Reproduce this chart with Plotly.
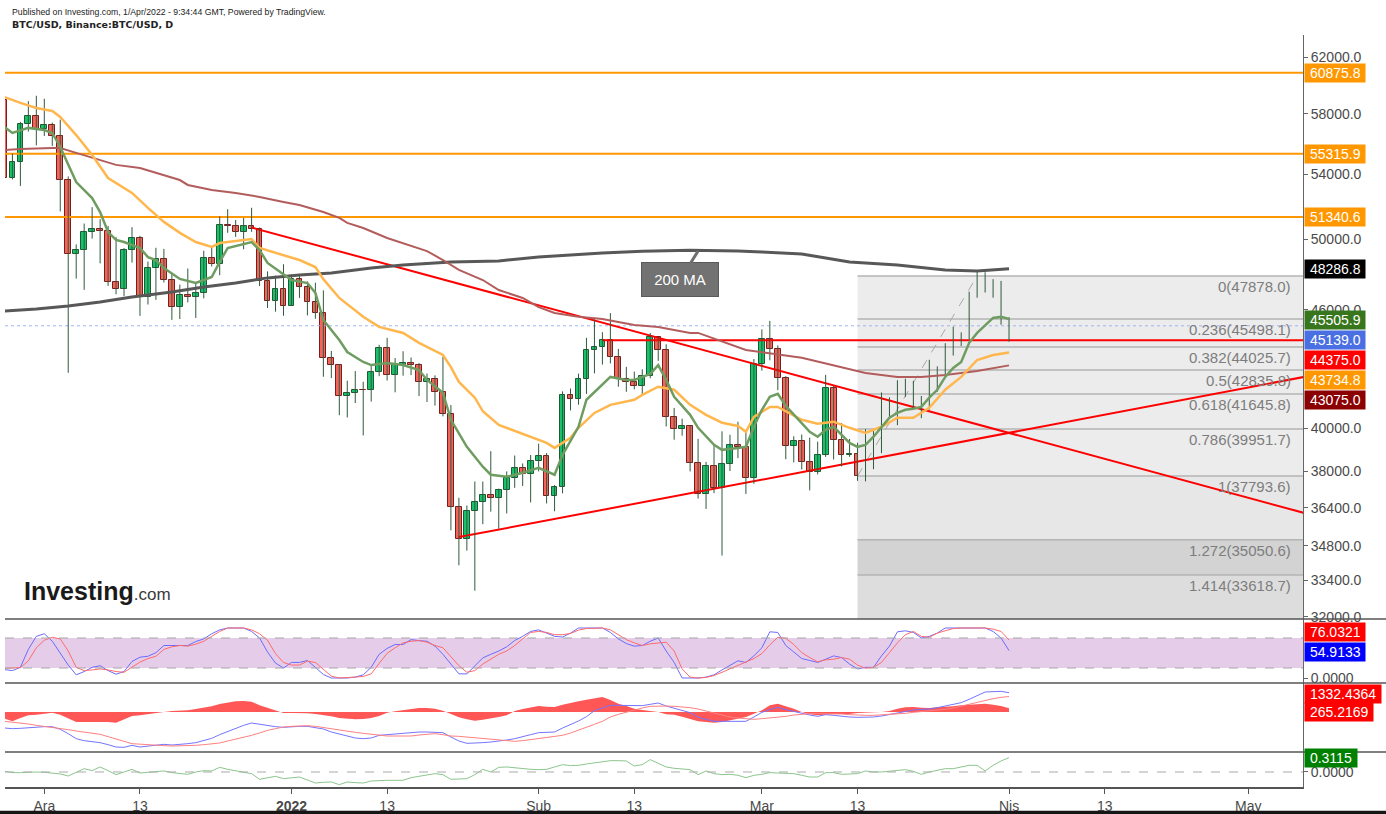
import numpy as np
import pandas as pd
import plotly.graph_objects as go
from plotly.subplots import make_subplots

# ---------------- data ----------------
dates = pd.date_range('2021-11-26', '2022-04-01', freq='D')

opens = [58921, 53736, 54799, 57291, 57831,
         56975, 57210, 56509, 53601, 49152, 49397, 50441, 50588, 50471, 47535, 47140, 49389, 50054, 46702, 48343, 48864,
         47632, 46131, 46834, 46681, 46914, 48887, 48588, 50838, 50821, 50429, 50809, 50640, 47588, 46464, 47120,
         46216, 47722, 47286, 46446, 45833, 43432, 43082, 41567, 41680, 41864, 41822, 42736, 43950, 42592, 43099, 43177,
         43113, 42250, 42375, 41744, 40680, 36445, 35071, 36244, 36660, 36958, 36809, 37160, 37716, 38166, 37881,
         38466, 38690, 36896, 37311, 41574, 41382, 42380, 43840, 44043, 44372, 43495, 42373, 42217, 42053, 42535, 44544,
         43873, 40515, 39974, 40079, 38386, 37008, 38230, 37250, 38328, 39219, 39116, 37700,
         43160, 44421, 43892, 42454, 39148, 39397, 38420, 37988, 38730, 41941, 39422, 38729, 38807, 37777, 39671, 39280,
         41114, 40917, 41757, 42201, 41262, 41002, 42364, 42882, 43991, 44313, 44511, 46827, 47122, 47434, 47067,
         45510]
highs = [59183, 55329, 57445, 58872, 59250,
         59041, 57400, 57600, 53859, 49699, 50939, 51936, 51200, 50797, 50125, 49485, 50724, 50205, 48700, 49500, 49436,
         47995, 47392, 48300, 47537, 49328, 49576, 51375, 51810, 51156, 51280, 51900, 50704, 48140, 47900, 48548,
         47954, 47990, 47570, 47500, 47070, 43816, 43145, 42300, 42786, 42248, 43100, 44135, 44500, 43448, 43800, 43476,
         43200, 42662, 42569, 43505, 41100, 36835, 36499, 37550, 37545, 38919, 37234, 38000, 38720, 38359, 38744,
         39265, 38835, 37387, 41772, 41913, 42656, 44500, 45492, 44799, 45821, 43920, 43000, 42760, 42876, 44751, 44549,
         44164, 40959, 40444, 40125, 39494, 38429, 39249, 39843, 39683, 40300, 39855, 43400,
         44949, 45400, 44101, 42527, 39613, 39693, 39547, 39362, 42594, 42039, 40236, 39486, 39310, 39947, 39887, 41718,
         41478, 42325, 42400, 42296, 41544, 43361, 43025, 44220, 45094, 44792, 46999, 48190, 48096, 47700, 47600,
         45600]
lows = [53500, 53669, 53256, 56793, 55875,
        56500, 55837, 51680, 42700, 47727, 47100, 50039, 48600, 47320, 46852, 46751, 48638, 45672, 46290, 46547, 47511,
        45456, 45500, 46406, 45558, 46630, 48421, 47920, 50384, 50142, 49412, 50449, 47313, 46096, 45900, 45678,
        46208, 46654, 45696, 45516, 42500, 42430, 40610, 40501, 41200, 39650, 41268, 42528, 42311, 41725, 42555, 42581,
        41540, 41250, 41074, 40553, 35440, 34008, 34601, 33000, 35701, 36234, 35507, 36155, 37268, 37351, 36632,
        38000, 36586, 36250, 37026, 40843, 41116, 41645, 42667, 43117, 43174, 42000, 41748, 41870, 41571, 42427, 43307,
        40073, 39450, 39639, 38000, 36800, 36350, 37036, 34400, 38015, 38600, 37000, 37450,
        42809, 43334, 41832, 38550, 38407, 38088, 37155, 37867, 38656, 38539, 38223, 38660, 37578, 37555, 38098, 38828,
        40500, 40135, 41499, 40911, 40467, 40875, 41751, 42560, 43579, 44071, 44422, 46663, 46950, 46665, 45200,
        44300]
closes = [53736, 54799, 57291, 57831, 56975,
          57210, 56509, 53601, 49152, 49397, 50441, 50588, 50471, 47545, 47140, 49389, 50054, 46702, 48343, 48864, 47632,
          46131, 46834, 46681, 46914, 48889, 48588, 50838, 50821, 50429, 50809, 50640, 47588, 46464, 47120, 46216,
          47722, 47286, 46446, 45833, 43432, 43082, 41567, 41680, 41864, 41822, 42736, 43950, 42592, 43099, 43177, 43113,
          42250, 42375, 41744, 40680, 36445, 35071, 36244, 36660, 36958, 36809, 37160, 37716, 38166, 37881, 38466,
          38690, 36896, 37311, 41574, 41382, 42380, 43840, 44043, 44372, 43495, 42373, 42217, 42053, 42535, 44544, 43873,
          40515, 39974, 40079, 38386, 37008, 38230, 37250, 38328, 39219, 39116, 37700, 43160,
          44421, 43892, 42454, 39148, 39397, 38420, 37988, 38730, 41941, 39422, 38729, 38807, 37777, 39671, 39280, 41114,
          40917, 41757, 42201, 41262, 41002, 42364, 42882, 43991, 44313, 44511, 46827, 47122, 47434, 47067, 45510,
          45139]

# moving averages (date, value)
ma_fast_dates = ['2021-11-26', '2021-11-27', '2021-11-29', '2021-12-01', '2021-12-02', '2021-12-03', '2021-12-05',
                 '2021-12-07', '2021-12-08', '2021-12-09', '2021-12-10', '2021-12-11', '2021-12-13', '2021-12-14',
                 '2021-12-15', '2021-12-16', '2021-12-18', '2021-12-20', '2021-12-21', '2021-12-22', '2021-12-23',
                 '2021-12-24', '2021-12-27', '2021-12-28', '2021-12-29', '2021-12-31', '2022-01-01', '2022-01-03',
                 '2022-01-04', '2022-01-05', '2022-01-07', '2022-01-08', '2022-01-10', '2022-01-11', '2022-01-13',
                 '2022-01-15', '2022-01-17', '2022-01-18', '2022-01-20', '2022-01-21', '2022-01-23', '2022-01-25',
                 '2022-01-26', '2022-01-28', '2022-01-30', '2022-02-01', '2022-02-03', '2022-02-04', '2022-02-06',
                 '2022-02-07', '2022-02-09', '2022-02-10', '2022-02-12', '2022-02-13', '2022-02-15', '2022-02-16',
                 '2022-02-17', '2022-02-18', '2022-02-20', '2022-02-21', '2022-02-23', '2022-02-24', '2022-02-26',
                 '2022-02-27', '2022-02-28', '2022-03-01', '2022-03-02', '2022-03-03', '2022-03-04', '2022-03-05',
                 '2022-03-06', '2022-03-07', '2022-03-08', '2022-03-09', '2022-03-10', '2022-03-11', '2022-03-12',
                 '2022-03-13', '2022-03-14', '2022-03-15', '2022-03-16', '2022-03-17', '2022-03-18', '2022-03-19',
                 '2022-03-20', '2022-03-21', '2022-03-22', '2022-03-23', '2022-03-24', '2022-03-25', '2022-03-26',
                 '2022-03-27', '2022-03-28', '2022-03-29', '2022-03-30', '2022-03-31', '2022-04-01']
ma_fast_vals = [57100, 56700, 57040, 56900, 56700, 55770, 53500, 52500, 51640, 50430, 49960, 49840, 49490, 48960,
                48790, 48330, 47710, 47480, 47650, 47820, 48680, 49490, 49840, 49370, 48620, 47940, 47650, 47480,
                46930, 45450, 44390, 43760, 43250, 43090, 43200, 43090, 42840, 42340, 41700, 40390, 39120, 38210,
                37850, 37760, 37940, 38160, 37850, 38750, 40060, 41360, 42090, 42490, 42340, 42340, 42640, 43090,
                42340, 41500, 40630, 40010, 39210, 38980, 39070, 39120, 40060, 40870, 41500, 41650, 41060, 40630,
                40250, 39820, 39590, 39910, 40060, 39680, 39300, 39120, 39210, 39590, 40060, 40490, 40720, 40870,
                40920, 41010, 41460, 41850, 42490, 42940, 43250, 44240, 44760, 45180, 45560, 45620, 45506]

ma_mid_dates = ['2021-11-26', '2021-11-28', '2021-11-30', '2021-12-02', '2021-12-03', '2021-12-05', '2021-12-07',
                '2021-12-09', '2021-12-12', '2021-12-14', '2021-12-16', '2021-12-18', '2021-12-20', '2021-12-22',
                '2021-12-23', '2021-12-25', '2021-12-27', '2021-12-28', '2021-12-31', '2022-01-02', '2022-01-04',
                '2022-01-05', '2022-01-07', '2022-01-10', '2022-01-12', '2022-01-15', '2022-01-17', '2022-01-20',
                '2022-01-21', '2022-01-22', '2022-01-24', '2022-01-25', '2022-01-27', '2022-01-30', '2022-01-31',
                '2022-02-02', '2022-02-03', '2022-02-05', '2022-02-06', '2022-02-08', '2022-02-10', '2022-02-13',
                '2022-02-14', '2022-02-16', '2022-02-18', '2022-02-19', '2022-02-20', '2022-02-22', '2022-02-24',
                '2022-02-26', '2022-02-27', '2022-02-28', '2022-03-01', '2022-03-02', '2022-03-03', '2022-03-04',
                '2022-03-05', '2022-03-06', '2022-03-08', '2022-03-10', '2022-03-12', '2022-03-14', '2022-03-16',
                '2022-03-18', '2022-03-20', '2022-03-22', '2022-03-24', '2022-03-26', '2022-03-28', '2022-03-30',
                '2022-04-01']
ma_mid_vals = [59160, 58750, 58400, 58190, 57780, 56560, 55240, 53760, 52820, 51890, 51040, 50380, 49840, 49550,
               49780, 49900, 50020, 49490, 49080, 48790, 48390, 47700, 46650, 45620, 45080, 44760, 44240, 43610,
               42990, 42240, 41460, 40800, 40150, 39730, 39590, 39300, 39070, 39540, 40010, 40720, 41110, 41360,
               41600, 42000, 41850, 41460, 41110, 40630, 40250, 40100, 39820, 40530, 40770, 41010, 41010, 40800,
               40630, 40390, 40200, 40300, 40010, 39770, 40060, 40490, 40490, 40970, 41850, 42490, 43350, 43610,
               43735]

ma_slow_dates = ['2021-11-26', '2021-11-28', '2021-12-02', '2021-12-03', '2021-12-05', '2021-12-08', '2021-12-10',
                 '2021-12-13', '2021-12-15', '2021-12-18', '2021-12-19', '2021-12-22', '2021-12-25', '2021-12-28',
                 '2021-12-31', '2022-01-02', '2022-01-05', '2022-01-07', '2022-01-08', '2022-01-10', '2022-01-13',
                 '2022-01-18', '2022-01-20', '2022-01-22', '2022-01-25', '2022-01-27', '2022-01-30', '2022-02-01',
                 '2022-02-03', '2022-02-06', '2022-02-09', '2022-02-13', '2022-02-16', '2022-02-20', '2022-02-21',
                 '2022-02-27', '2022-03-06', '2022-03-12', '2022-03-14', '2022-03-18', '2022-03-21', '2022-03-24',
                 '2022-03-28', '2022-04-01']
ma_slow_vals = [55570, 55640, 55700, 55700, 55380, 54920, 54600, 54400, 54080, 53630, 53320, 53000, 52820, 52570,
                52260, 52070, 51640, 51280, 50980, 50670, 50080, 49310, 48790, 48220, 47650, 47090, 46650, 46150,
                45830, 45620, 45500, 45180, 45080, 44760, 44760, 43870, 43460, 42890, 42690, 42490, 42490, 42590,
                42790, 43075]

ma200_dates = ['2021-11-26', '2021-11-30', '2021-12-04', '2021-12-08', '2021-12-12', '2021-12-17', '2021-12-21',
               '2021-12-25', '2021-12-29', '2022-01-02', '2022-01-06', '2022-01-08', '2022-01-11', '2022-01-15',
               '2022-01-21', '2022-01-27', '2022-02-01', '2022-02-09', '2022-02-14', '2022-02-20', '2022-02-26',
               '2022-03-01', '2022-03-06', '2022-03-12', '2022-03-18', '2022-03-24', '2022-03-28', '2022-04-01']
ma200_vals = [45940, 46040, 46210, 46430, 46700, 46980, 47260, 47480, 47770, 47940, 48050, 48160, 48330, 48500,
              48680, 48740, 48970, 49200, 49300, 49350, 49320, 49260, 49140, 48680, 48510, 48220, 48160, 48287]

# horizontal levels
orange_levels = [60875.8, 55315.9, 51340.6]
red_level = 44375.0
red_level_start = '2022-02-09'
last_price = 45139.0

# trend lines (date, price)
trend_down = (['2021-12-27', '2022-05-08'], [50700, 36180])
trend_up = (['2022-01-22', '2022-05-08'], [35160, 42490])

# fibonacci retracement
fib_start = '2022-03-13'
fib_ratios = ['0', '0.236', '0.382', '0.5', '0.618', '0.786', '1', '1.272', '1.414']
fib_prices = [47878.0, 45498.1, 44025.7, 42835.8, 41645.8, 39951.7, 37793.6, 35050.6, 33618.7]
fib_trend = (['2022-03-13', '2022-03-28'], [37793.6, 47878.0])

# Stochastic RSI
stoch_k = [16.8, 14.8, 21.3, 57.2, 83.3, 88.5, 73.5, 50.7, 25.9, 6.3,
           12.9, 21.3, 24.6, 14.8, 7.6, 12.9, 33.1, 41.6, 43.5, 50.7,
           65.0, 65.0, 64.4, 65.0, 72.9, 78.1, 88.5, 96.3, 100, 100,
           100, 93.1, 80.0, 52.0, 29.8, 20.0, 31.1, 31.1, 35.0, 21.3,
           7.0, 0, 0, 0, 1.8, 6.3, 21.3, 47.4, 59.2, 67.0,
           67.0, 76.8, 74.8, 73.5, 63.7, 47.4, 27.9, 8.3, 8.3, 24.6,
           40.2, 47.4, 53.9, 62.4, 75.0, 83.3, 93.1, 96.3, 89.8, 83.3,
           82.0, 89.8, 100, 100, 100, 100, 91.1, 78.1, 68.9, 63.7,
           65.0, 73.5, 80.0, 53.9, 31.1, 0, 0, 0, 1.8, 6.3,
           16.1, 24.6, 34.4, 31.1, 44.2, 60.5, 92.4, 91.1, 65.0, 52.0,
           38.9, 35.0, 31.1, 37.6, 44.2, 40.9, 27.9, 18.1, 21.3, 21.3,
           44.2, 63.7, 92.4, 94.4, 91.1, 80.0, 83.3, 89.8, 100, 100,
           100, 100, 100, 100, 93.1, 80.0, 54.9133]
stoch_d = [19.4, 19.4, 20.7, 34.4, 60.5, 75.5, 81.4, 78.1, 54.0, 21.3,
           14.8, 16.1, 18.1, 16.1, 12.9, 11.5, 22.0, 31.8, 38.9, 43.5,
           57.2, 62.4, 65.0, 63.7, 67.6, 73.5, 83.3, 93.1, 100, 100,
           100, 96.3, 88.5, 75.5, 48.7, 31.1, 25.9, 25.9, 33.7, 31.1,
           18.1, 3.7, 0, 0.5, 1.8, 3.1, 8.3, 29.2, 49.4, 60.5,
           70.3, 73.5, 74.8, 71.6, 65.0, 60.5, 43.5, 24.6, 11.5, 14.8,
           27.9, 37.6, 47.4, 54.0, 65.0, 78.1, 91.1, 93.1, 91.1, 86.6,
           86.6, 89.2, 95.7, 99.0, 100, 100, 96.3, 86.6, 76.8, 70.3,
           65.0, 68.3, 70.3, 71.6, 54.0, 18.1, 1.8, 0, 1.1, 5.0,
           11.5, 18.1, 25.9, 31.1, 38.9, 48.7, 66.3, 81.4, 79.4, 67.0,
           50.7, 40.9, 32.4, 36.3, 37.6, 40.9, 37.6, 25.9, 19.4, 21.3,
           31.1, 50.7, 70.3, 86.6, 93.1, 83.3, 81.4, 89.8, 95.0, 99.0,
           100, 100, 100, 100, 97.7, 93.1, 76.0321]

# MACD
macd_line = [-1104, -1150, -1127, -1081, -1058, -1012, -1012, -1196, -1495, -1840,
             -1978, -2047, -2116, -2254, -2415, -2438, -2300, -2415, -2346, -2277,
             -2231, -2277, -2254, -2185, -2116, -1978, -1817, -1564, -1334, -1104,
             -920, -759, -851, -920, -1012, -1058, -1012, -989, -989, -1081,
             -1173, -1380, -1518, -1656, -1794, -1840, -1794, -1610, -1564, -1518,
             -1472, -1403, -1380, -1380, -1403, -1426, -1725, -2001, -2162, -2162,
             -2116, -2070, -2024, -1932, -1840, -1725, -1564, -1426, -1426, -1380,
             -1104, -874, -621, -322, 92, 276, 460, 460, 460, 437,
             437, 529, 621, 414, 276, 138, -46, -368, -506, -644,
             -644, -644, -644, -644, -345, -23, 161, 322, 161, 23,
             -92, -207, -299, -184, -230, -299, -345, -368, -368, -345,
             -276, -161, -46, 69, 138, 184, 207, 299, 414, 506,
             644, 874, 1104, 1380, 1403, 1426, 1332.4364]
macd_signal = [-644, -690, -736, -828, -920, -989, -1058, -1104, -1219, -1311,
               -1380, -1449, -1541, -1702, -1886, -2024, -2185, -2231, -2277, -2300,
               -2323, -2346, -2346, -2323, -2300, -2254, -2208, -2139, -2001, -1886,
               -1748, -1610, -1449, -1265, -1150, -1035, -989, -943, -943, -989,
               -1081, -1150, -1219, -1311, -1403, -1472, -1541, -1610, -1656, -1656,
               -1656, -1656, -1587, -1518, -1495, -1564, -1656, -1679, -1725, -1748,
               -1794, -1840, -1909, -1955, -2024, -1978, -1909, -1863, -1794, -1725,
               -1610, -1449, -1265, -1081, -851, -644, -345, -161, 0, 161,
               276, 391, 414, 414, 391, 368, 299, 207, 92, -69,
               -207, -345, -414, -483, -506, -460, -414, -368, -299, -207,
               -138, -115, -115, -115, -115, -138, -184, -230, -230, -230,
               -207, -184, -161, -92, -23, 23, 46, 115, 184, 276,
               414, 506, 644, 782, 920, 1012, 1067]
macd_hist = [-460, -644, -414, -230, -184, -115, -46, -184, -414, -690,
             -690, -690, -644, -690, -736, -506, -276, -230, -138, -69,
             0, 69, 92, 115, 207, 276, 391, 552, 644, 736,
             759, 713, 460, 276, 69, -69, -69, -69, -92, -138,
             -207, -299, -414, -483, -506, -483, -414, -276, -46, 46,
             138, 207, 276, 276, 230, 92, -161, -368, -506, -598,
             -529, -460, -345, -230, 69, 207, 299, 414, 368, 345,
             506, 644, 736, 851, 943, 1035, 828, 575, 414, 230,
             138, 69, 0, -161, -184, -322, -460, -644, -690, -736,
             -690, -575, -460, -345, -115, 115, 460, 575, 391, 230,
             0, -161, -230, -161, -138, -138, -138, -69, -46, -46,
             0, 69, 230, 322, 345, 299, 276, 322, 345, 391,
             460, 506, 575, 575, 506, 414, 265.2169]

# third oscillator
osc = [0.014, -0.014, -0.014, 0, 0, -0.007, -0.022, -0.043, -0.087, 0,
       0.072, 0.029, 0.109, 0.029, -0.058, 0, 0.058, -0.022, -0.007, 0,
       0.022, -0.014, -0.029, -0.051, 0, 0.029, 0.022, 0.101, 0.058, 0.022,
       -0.007, -0.036, -0.159, -0.130, -0.094, -0.145, -0.123, -0.109, -0.174, -0.239,
       -0.224, -0.217, -0.275, -0.217, -0.232, -0.239, -0.195, -0.181, -0.181, -0.181,
       -0.181, -0.123, -0.094, -0.051, -0.036, -0.058, -0.159, -0.152, -0.145, -0.058,
       0.058, 0, 0.101, 0.109, 0.087, 0.072, 0.058, 0.051, 0.058, 0.109,
       0.159, 0.138, 0.145, 0.174, 0.195, 0.232, 0.246, 0.246, 0.239, 0.130,
       0.159, 0.268, 0.188, 0.109, 0.080, 0.065, 0.051, -0.058, 0.022, -0.036,
       -0.058, -0.051, -0.072, -0.123, -0.072, -0.051, -0.014, -0.022, -0.022, -0.036,
       -0.072, -0.109, -0.109, -0.014, -0.014, -0.051, -0.043, -0.036, 0.022, 0,
       0, 0.014, 0.036, 0.051, 0.014, -0.051, 0, 0.029, 0.072, 0.072,
       0.109, 0.145, 0.145, 0.022, 0.145, 0.239, 0.3115]

x_tick_dates = ['2021-12-01', '2021-12-13', '2022-01-01', '2022-01-13', '2022-02-01', '2022-02-13',
                '2022-03-01', '2022-03-13', '2022-04-01', '2022-04-13', '2022-05-01']
x_tick_text = ['Ara', '13', '<b>2022</b>', '13', 'Şub', '13', 'Mar', '13', 'Nis', '13', 'May']
y_tick_vals = [62000, 58000, 54000, 50000, 46000, 40000, 38000, 36400, 34800, 33400, 32000]

X_RANGE = ['2021-11-26 01:42', '2022-05-07 20:53']
FONT = 'Arial, Liberation Sans, sans-serif'

# ---------------- figure ----------------
fig = make_subplots(rows=4, cols=1, shared_xaxes=True, vertical_spacing=0,
                    row_heights=[584, 64, 69, 35])

def line(x, y, color, width, dash=None, row=1, **kw):
    fig.add_trace(go.Scatter(x=x, y=y, mode='lines', hoverinfo='skip',
                             line=dict(color=color, width=width, dash=dash), **kw), row=row, col=1)

# fib shaded zones
bands = [(0, 6, '#ececec'), (6, 7, '#e7e7e7'), (7, 8, '#d3d3d3')]
for a, b, col in bands:
    fig.add_trace(go.Scatter(x=[fib_start, X_RANGE[1], X_RANGE[1], fib_start, fib_start],
                             y=[fib_prices[a], fib_prices[a], fib_prices[b], fib_prices[b], fib_prices[a]],
                             mode='lines', fill='toself', fillcolor=col, line=dict(width=0),
                             hoverinfo='skip'), row=1, col=1)
fig.add_trace(go.Scatter(x=[fib_start, X_RANGE[1], X_RANGE[1], fib_start, fib_start],
                         y=[fib_prices[8], fib_prices[8], 30000, 30000, fib_prices[8]],
                         mode='lines', fill='toself', fillcolor='#dddddd', line=dict(width=0),
                         hoverinfo='skip'), row=1, col=1)
for p in fib_prices:
    line([fib_start, X_RANGE[1]], [p, p], '#b4b4b4', 1.5)
line(fib_trend[0], fib_trend[1], '#a8a8a8', 1, dash='dash')

# horizontal levels
for p in orange_levels:
    line(X_RANGE, [p, p], '#ff9800', 2)
line(X_RANGE, [last_price, last_price], '#9fb4f2', 1, dash='dot')
line([red_level_start, X_RANGE[1]], [red_level, red_level], '#ff0000', 2)
line(trend_down[0], trend_down[1], '#ff0000', 2)
line(trend_up[0], trend_up[1], '#ff0000', 2)

# candles: wicks + bodies
wx, wy = [], []
for d, lo, hi in zip(dates, lows, highs):
    wx += [d, d, None]
    wy += [lo, hi, None]
line(wx, wy, '#2f5a3c', 1)
up = [c >= o for o, c in zip(opens, closes)]
fig.add_trace(go.Bar(x=dates, y=[abs(c - o) for o, c in zip(opens, closes)],
                     base=[min(o, c) for o, c in zip(opens, closes)],
                     width=0.72 * 86400000, hoverinfo='skip',
                     marker=dict(color=['#17c26a' if u else '#f4645a' for u in up],
                                 line=dict(color=['#1e5a34' if u else '#7a1d1d' for u in up], width=1))),
              row=1, col=1)

# moving averages
line(ma200_dates, ma200_vals, '#585858', 3)
line(ma_slow_dates, ma_slow_vals, '#b35c5c', 2)
line(ma_mid_dates, ma_mid_vals, '#ffb74d', 2.5)
line(ma_fast_dates, ma_fast_vals, '#6f9d61', 2.5)

# stoch RSI
line(dates, stoch_k, '#6b6bff', 1, row=2)
line(dates, stoch_d, '#ff6b6b', 1, row=2)

# MACD
fig.add_trace(go.Scatter(x=dates, y=macd_hist, mode='lines', fill='tozeroy', fillcolor='#ff5656',
                         line=dict(width=0, color='#ff5656'), hoverinfo='skip'), row=3, col=1)
line(dates, macd_line, '#7474ff', 1, row=3)
line(dates, macd_signal, '#ff8080', 1, row=3)

# oscillator
line(dates, osc, '#8cc68c', 1, row=4)

# ---------------- axes ----------------
ax_common = dict(showgrid=False, zeroline=False, side='right', showline=True, linecolor='#666666',
                 linewidth=1, ticks='outside', ticklen=4, tickcolor='#666666', automargin=False,
                 tickfont=dict(size=14, color='#4a4a4a', family=FONT))
fig.update_yaxes(**ax_common)
fig.update_yaxes(type='log', range=[4.50398, 4.80389], tickvals=y_tick_vals,
                 ticktext=[f'{v:.1f}' for v in y_tick_vals], row=1, col=1)
fig.update_yaxes(range=[-10, 118], tickvals=[0], ticktext=['0.0000'], row=2, col=1)
fig.update_yaxes(range=[-2760, 2001], tickvals=[], row=3, col=1)
fig.update_yaxes(range=[-0.326, 0.434], tickvals=[0], ticktext=['0.0000'], row=4, col=1)

fig.update_xaxes(type='date', range=X_RANGE, showgrid=False, zeroline=False, showticklabels=False,
                 rangeslider_visible=False, automargin=False)
fig.update_xaxes(showticklabels=True, tickvals=x_tick_dates, ticktext=x_tick_text, ticks='outside',
                 ticklen=5, tickcolor='#555555', showline=True, linecolor='#555555', linewidth=1.5,
                 tickfont=dict(size=14, color='#4a4a4a', family=FONT), row=4, col=1)

# ---------------- shapes ----------------
shapes = []
for yp in [0.22340, 0.13830, 0.04654]:
    shapes.append(dict(type='line', xref='paper', yref='paper', x0=0, x1=1.07, y0=yp, y1=yp,
                       line=dict(color='#555555', width=1.5)))
shapes.append(dict(type='rect', xref='paper', yref='paper', x0=-0.01, x1=1.07, y0=-0.0365, y1=-0.0315,
                   fillcolor='#161616', line=dict(width=0)))
shapes.append(dict(type='rect', xref='x2 domain', yref='y2', x0=0, x1=1, y0=20, y1=80,
                   fillcolor='#e5cde9', line=dict(width=0), layer='below'))
for lv in [20, 80]:
    shapes.append(dict(type='line', xref='x2 domain', yref='y2', x0=0, x1=1, y0=lv, y1=lv,
                       line=dict(color='#a5a5a5', width=1, dash='dash')))
shapes.append(dict(type='line', xref='x4 domain', yref='y4', x0=0, x1=1, y0=0, y1=0,
                   line=dict(color='#aaaaaa', width=1, dash='dash')))

# ---------------- annotations ----------------
ann = []
ann.append(dict(xref='paper', yref='paper', x=0, y=1 + 23.5 / 752, xanchor='left', yanchor='middle', xshift=5,
                text='Published on Investing.com, 1/Apr/2022 - 9:34:44 GMT, Powered by TradingView.',
                showarrow=False, font=dict(size=8.7, color='#222222', family=FONT)))
ann.append(dict(xref='paper', yref='paper', x=0, y=1 + 10.5 / 752, xanchor='left', yanchor='middle', xshift=5,
                text='<b>BTC/USD, Binance:BTC/USD, D</b>',
                showarrow=False, font=dict(size=9.5, color='#222222', family='DejaVu Sans, Verdana, sans-serif')))
ann.append(dict(xref='paper', yref='paper', x=17 / 1298, y=(787 - 591) / 752, xanchor='left', yanchor='middle',
                text='<b>Investing</b><span style="font-size:17px;color:#3a3a3a">.com</span>',
                showarrow=False, font=dict(size=25, color='#1a1a1a', family=FONT)))

# fib labels
for r, p in zip(fib_ratios, fib_prices):
    ann.append(dict(xref='paper', yref='y', x=1, y=np.log10(p), xanchor='right', yanchor='top',
                    xshift=-10, yshift=0, text=f'{r}({p:.1f})', showarrow=False,
                    font=dict(size=15, color='#7d7d7d', family=FONT)))

# 200 MA callout
ann.append(dict(xref='x', yref='y', x='2022-02-21', y=np.log10(49314), ax=-18, ay=29,
                text='&nbsp;200 MA&nbsp;', showarrow=True, arrowhead=0, arrowwidth=3, arrowcolor='#6e6e6e',
                bgcolor='#727272', bordercolor='#5a5a5a', borderwidth=1, borderpad=8,
                font=dict(size=15, color='white', family=FONT)))

# right-side value labels (price, color, stacking shift)
price_labels = [(60875.8, '#ff9800', 0), (55315.9, '#ff9800', 0), (51340.6, '#ff9800', 0),
                (48286.8, '#000000', 0), (45505.9, '#38761d', -1), (45139.0, '#4a6fe3', -14),
                (44375.0, '#ff0000', -20), (43734.8, '#ff9800', -27.5), (43075.0, '#8b0000', -34.6)]
for p, col, sh in price_labels:
    ann.append(dict(xref='paper', yref='y', x=1, y=np.log10(p), xanchor='left', yanchor='middle',
                    xshift=1, yshift=sh, text=f'&nbsp;{p:.1f}&nbsp;', showarrow=False, bgcolor=col,
                    borderpad=1, font=dict(size=14, color='white', family=FONT)))
ind_labels = [('y2', 76.0321, '76.0321', '#ff0000', 8), ('y2', 54.9133, '54.9133', '#0000ff', -1.5),
              ('y3', 1332.4364, '1332.4364', '#ff0000', -1), ('y3', 265.2169, '265.2169', '#ff0000', -4),
              ('y4', 0.3115, '0.3115', '#008000', 0)]
for yr, v, t, col, sh in ind_labels:
    ann.append(dict(xref='paper', yref=yr, x=1, y=v, xanchor='left', yanchor='middle', xshift=1, yshift=sh,
                    text=f'&nbsp;{t}&nbsp;', showarrow=False, bgcolor=col, borderpad=1,
                    font=dict(size=14, color='white', family=FONT)))

fig.update_layout(width=1386, height=814, margin=dict(l=5, r=83, t=35, b=27, autoexpand=False),
                  paper_bgcolor='white', plot_bgcolor='white', showlegend=False, hovermode=False,
                  shapes=shapes, annotations=ann, font=dict(family=FONT), bargap=0)

fig.write_html('out.html')
